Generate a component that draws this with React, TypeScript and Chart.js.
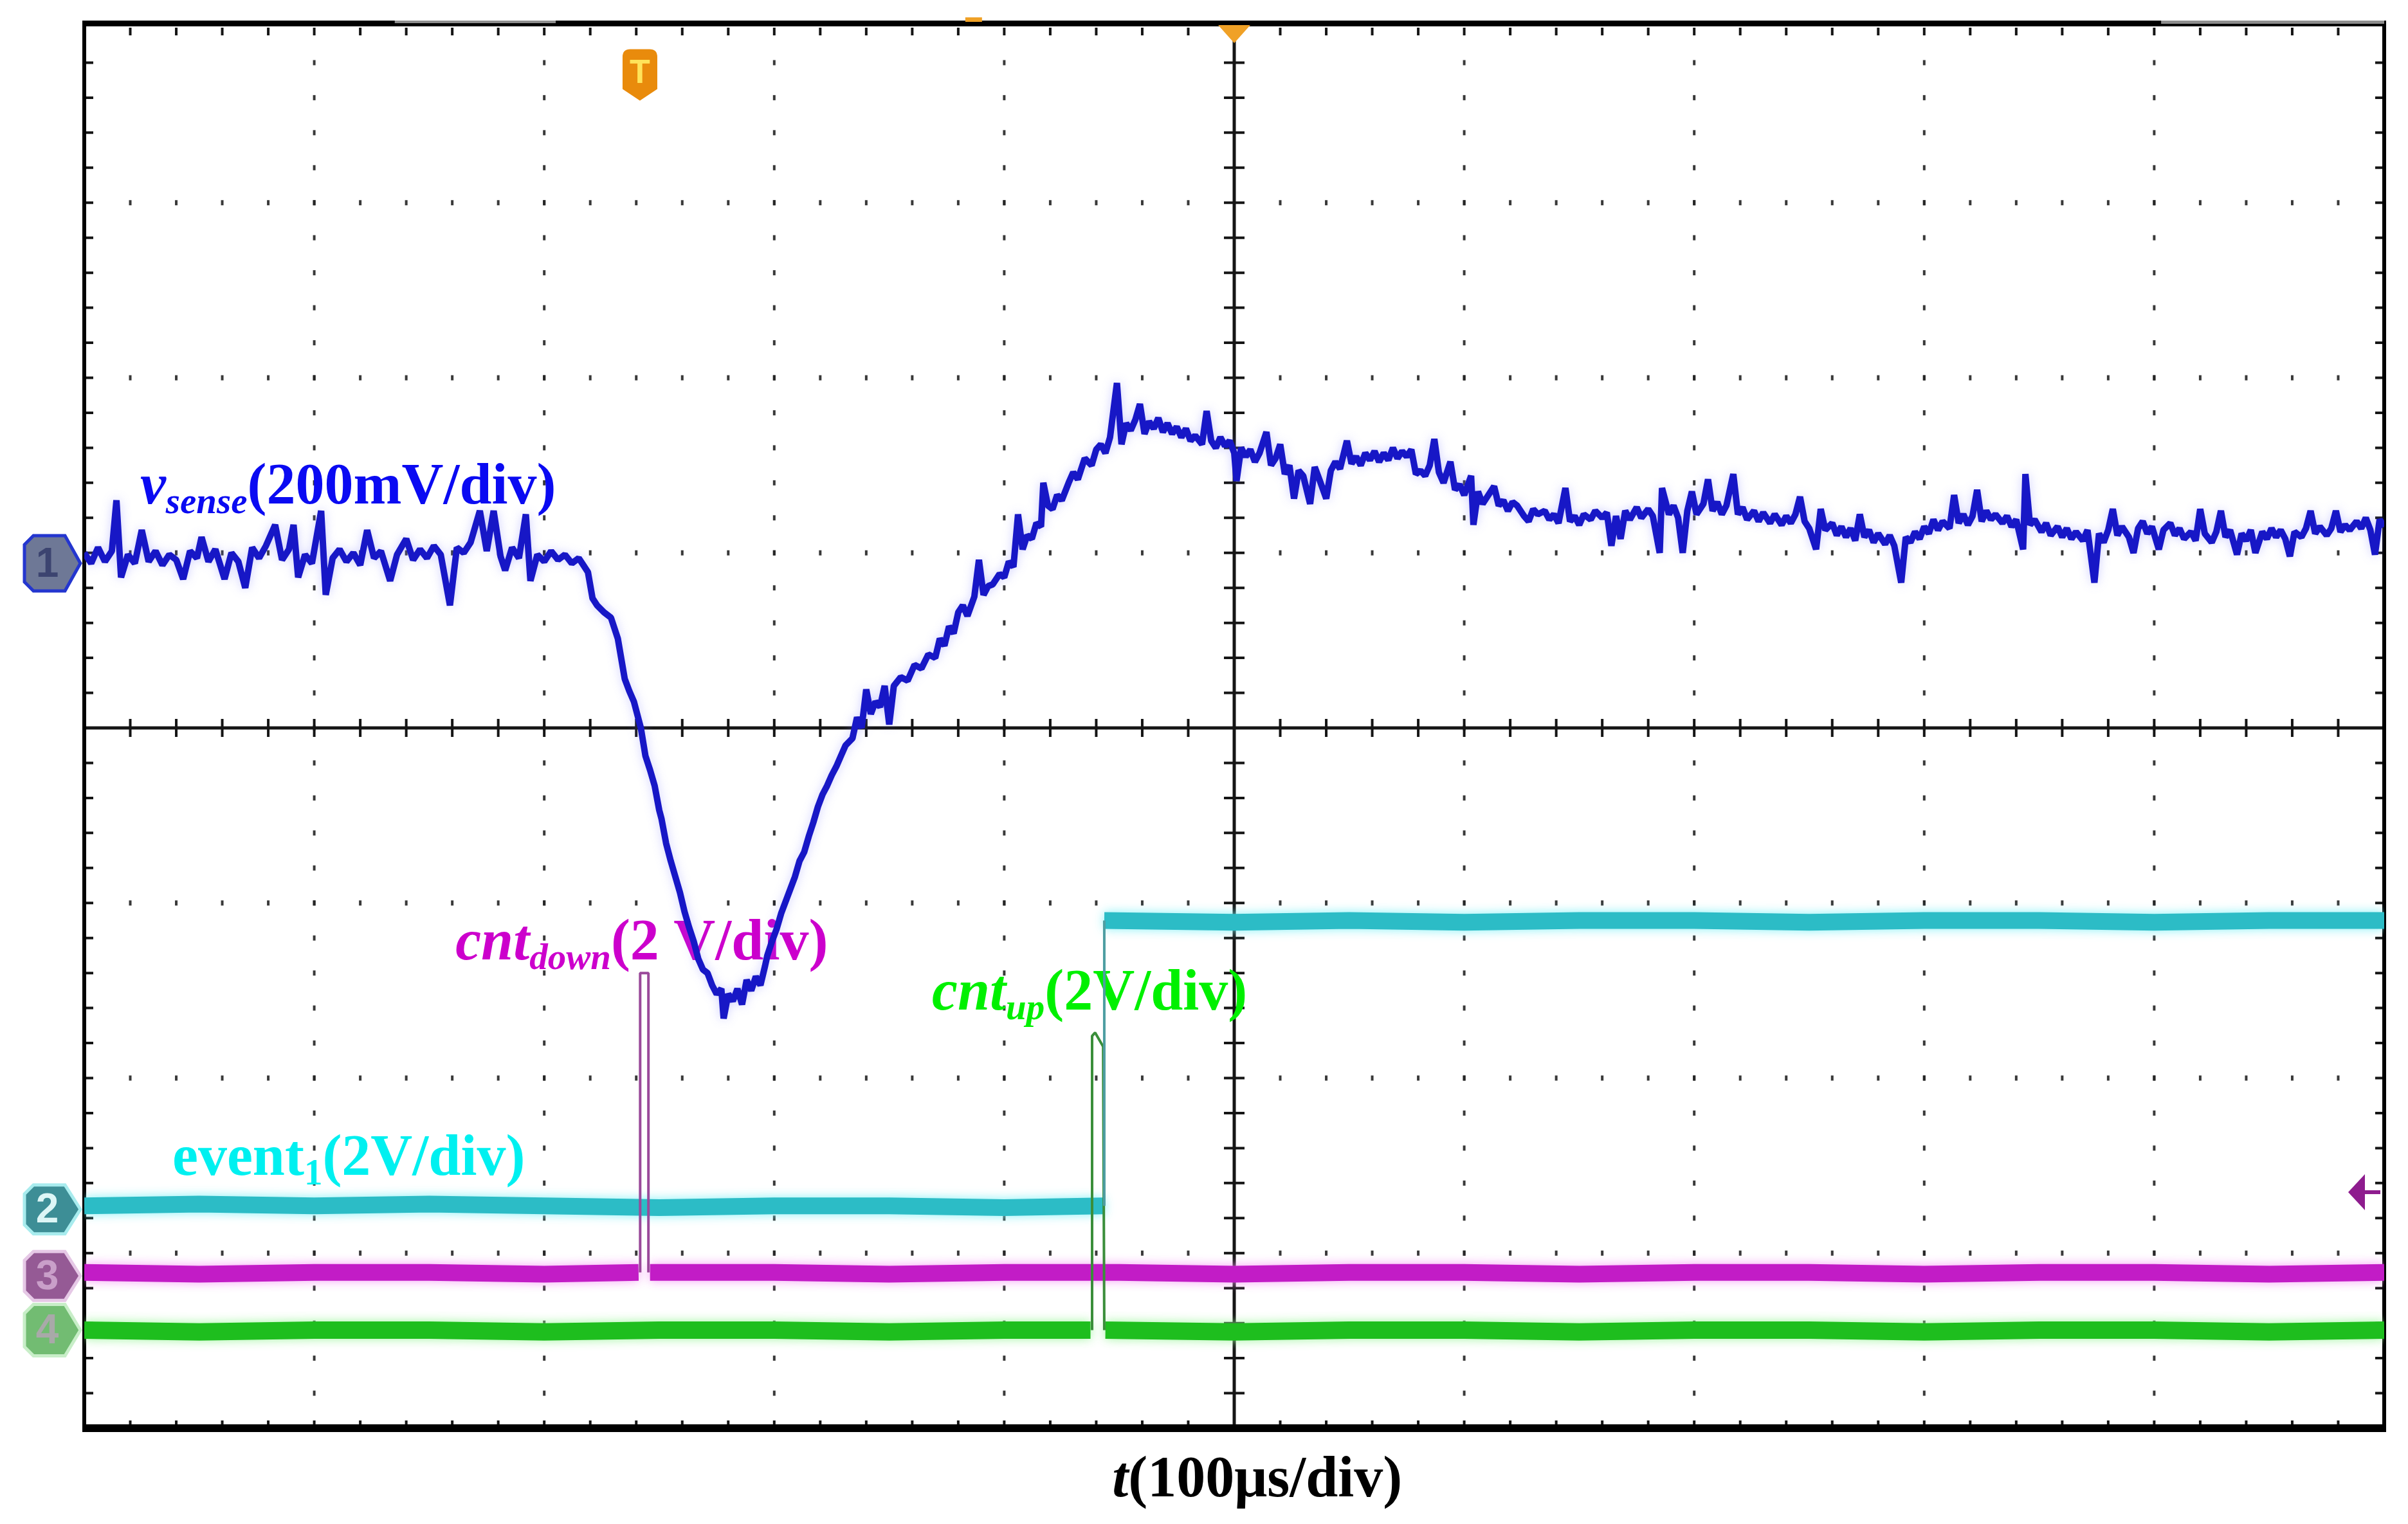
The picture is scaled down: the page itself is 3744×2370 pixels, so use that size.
import React, { useEffect, useRef } from 'react';
import { Chart, registerables } from 'chart.js';

Chart.register(...registerables);

// Time axis in microseconds (100 us/div), vertical axis in graticule divisions
const T_MIN = -500;
const T_MAX = 500;
const Y_MIN = -4;
const Y_MAX = 4;

// v_sense trace (channel 1), [t (us), divisions]
const VSENSE: [number, number][] = [
  [-500, 1.00], [-497, 0.94], [-494, 1.03], [-491, 0.95], [-488, 1.01], [-486, 1.30], [-484, 0.86], [-481, 0.99],
  [-478, 0.94], [-475, 1.13], [-472, 0.95], [-469, 1.01], [-466, 0.93], [-463, 0.99], [-460, 0.96], [-457, 0.85],
  [-454, 1.01], [-451, 0.97], [-449, 1.09], [-446, 0.95], [-443, 1.02], [-439, 0.85], [-436, 1.00], [-433, 0.95],
  [-430, 0.80], [-427, 1.03], [-424, 0.97], [-421, 1.04], [-417, 1.16], [-414, 0.96], [-411, 1.02], [-409, 1.16],
  [-407, 0.86], [-404, 0.99], [-401, 0.94], [-397, 1.24], [-395, 0.76], [-392, 0.97], [-389, 1.02], [-386, 0.95],
  [-383, 1.00], [-380, 0.93], [-377, 1.13], [-374, 0.97], [-371, 1.01], [-367, 0.84], [-364, 0.99], [-360, 1.08],
  [-357, 0.96], [-354, 1.02], [-351, 0.97], [-348, 1.04], [-345, 0.99], [-341, 0.70], [-338, 1.03], [-335, 1.00],
  [-332, 1.06], [-328, 1.24], [-325, 1.01], [-322, 1.24], [-319, 0.98], [-317, 0.90], [-314, 1.03], [-311, 0.97],
  [-308, 1.22], [-306, 0.84], [-303, 0.99], [-300, 0.95], [-297, 1.01], [-294, 0.96], [-291, 0.99], [-288, 0.94],
  [-285, 0.97], [-283, 0.93],
  [-281, 0.89], [-279, 0.74], [-277, 0.70], [-274, 0.66], [-271, 0.63], [-268, 0.51], [-265, 0.28], [-263, 0.21],
  [-261, 0.15], [-258, 0.00], [-256, -0.16], [-254, -0.24], [-252, -0.33], [-250, -0.47], [-249, -0.52], [-247, -0.66],
  [-245, -0.76], [-243, -0.85], [-241, -0.94], [-239, -1.05], [-237, -1.14], [-235, -1.22], [-233, -1.32], [-231, -1.38],
  [-229, -1.40], [-227, -1.47], [-225, -1.52], [-223, -1.49], [-222, -1.66], [-220, -1.52], [-218, -1.56], [-216, -1.49],
  [-214, -1.58], [-212, -1.44], [-210, -1.50], [-208, -1.42], [-206, -1.47], [-204, -1.36], [-203, -1.30], [-201, -1.22],
  [-199, -1.15], [-197, -1.06], [-195, -0.99], [-193, -0.92], [-191, -0.85], [-189, -0.76], [-187, -0.71], [-185, -0.62],
  [-183, -0.54], [-181, -0.45], [-179, -0.38], [-177, -0.33], [-175, -0.27], [-173, -0.22], [-171, -0.16], [-169, -0.10],
  [-166, -0.06], [-164, 0.06], [-162, 0.00], [-160, 0.22], [-158, 0.08], [-156, 0.15], [-154, 0.12], [-152, 0.24],
  [-150, 0.02], [-148, 0.24], [-145, 0.29], [-142, 0.27], [-139, 0.36], [-136, 0.34], [-133, 0.42], [-130, 0.40],
  [-128, 0.51], [-126, 0.47], [-124, 0.58], [-122, 0.54], [-120, 0.66], [-118, 0.70], [-116, 0.64], [-113, 0.75],
  [-111, 0.96], [-109, 0.76], [-107, 0.81], [-105, 0.82], [-102, 0.88], [-100, 0.86], [-98, 0.95], [-96, 0.92],
  [-94, 1.22], [-92, 1.02], [-90, 1.10], [-88, 1.08], [-86, 1.17], [-84, 1.15], [-83, 1.40], [-81, 1.27],
  [-79, 1.25], [-77, 1.33], [-75, 1.30], [-72, 1.40], [-70, 1.46], [-68, 1.42], [-65, 1.54], [-62, 1.50],
  [-60, 1.59], [-58, 1.62], [-56, 1.57], [-54, 1.66], [-51, 1.97], [-49, 1.62], [-47, 1.74], [-45, 1.70],
  [-43, 1.76], [-41, 1.85], [-39, 1.68], [-37, 1.75], [-35, 1.71], [-33, 1.77], [-31, 1.69], [-29, 1.74],
  [-27, 1.68], [-25, 1.72], [-23, 1.66], [-21, 1.71], [-19, 1.64], [-17, 1.67], [-14, 1.62], [-12, 1.81],
  [-10, 1.64], [-8, 1.60], [-6, 1.66], [-4, 1.61], [-2, 1.64], [0, 1.57], [1, 1.41], [3, 1.60],
  [5, 1.55], [7, 1.59], [9, 1.52], [11, 1.57], [14, 1.69], [16, 1.50], [18, 1.54], [20, 1.62],
  [22, 1.45], [24, 1.50], [26, 1.31], [28, 1.47], [30, 1.44], [33, 1.28], [35, 1.49], [37, 1.42],
  [40, 1.31], [42, 1.47], [44, 1.52], [46, 1.48], [49, 1.64], [51, 1.51], [53, 1.55], [55, 1.50],
  [57, 1.57], [59, 1.53], [61, 1.58], [63, 1.52], [65, 1.57], [67, 1.53], [69, 1.60], [71, 1.54],
  [73, 1.58], [75, 1.55], [77, 1.59], [79, 1.45], [81, 1.47], [83, 1.44], [85, 1.50], [87, 1.65],
  [89, 1.46], [91, 1.40], [94, 1.52], [96, 1.36], [98, 1.39], [100, 1.33], [103, 1.44], [104, 1.16],
  [106, 1.35], [108, 1.28], [110, 1.32], [113, 1.38], [115, 1.27], [117, 1.30], [119, 1.24], [121, 1.29],
  [123, 1.27], [126, 1.21], [128, 1.18], [130, 1.25], [132, 1.22], [135, 1.24], [137, 1.19], [139, 1.22],
  [141, 1.17], [144, 1.37], [146, 1.18], [148, 1.21], [150, 1.16], [152, 1.22], [155, 1.19], [157, 1.24],
  [160, 1.20], [162, 1.23], [164, 1.04], [166, 1.21], [168, 1.08], [170, 1.24], [172, 1.19], [175, 1.26],
  [177, 1.20], [180, 1.25], [182, 1.21], [185, 1.00], [186, 1.37], [189, 1.22], [191, 1.27], [193, 1.20],
  [195, 1.00], [197, 1.24], [199, 1.35], [201, 1.22], [204, 1.28], [206, 1.42], [208, 1.24], [210, 1.29],
  [212, 1.22], [214, 1.27], [217, 1.45], [219, 1.22], [221, 1.26], [223, 1.19], [226, 1.24], [228, 1.18],
  [230, 1.23], [233, 1.17], [235, 1.22], [238, 1.16], [240, 1.21], [242, 1.17], [244, 1.22], [246, 1.32],
  [248, 1.18], [250, 1.14], [253, 1.02], [255, 1.25], [257, 1.13], [260, 1.17], [262, 1.10], [264, 1.15],
  [266, 1.09], [268, 1.14], [270, 1.07], [272, 1.22], [274, 1.09], [276, 1.13], [278, 1.06], [280, 1.11],
  [283, 1.05], [285, 1.10], [287, 1.04], [290, 0.83], [292, 1.09], [294, 1.06], [296, 1.12], [298, 1.08],
  [300, 1.15], [302, 1.11], [304, 1.19], [306, 1.13], [308, 1.18], [311, 1.14], [313, 1.33], [315, 1.17],
  [317, 1.22], [319, 1.16], [321, 1.21], [323, 1.36], [325, 1.18], [327, 1.24], [329, 1.19], [331, 1.22],
  [334, 1.17], [336, 1.21], [338, 1.15], [340, 1.19], [343, 1.02], [344, 1.45], [346, 1.16], [348, 1.19],
  [351, 1.12], [353, 1.17], [355, 1.10], [358, 1.15], [360, 1.09], [362, 1.14], [364, 1.08], [366, 1.12],
  [369, 1.07], [371, 1.13], [374, 0.83], [376, 1.11], [378, 1.06], [380, 1.13], [382, 1.25], [384, 1.10],
  [386, 1.15], [389, 1.09], [391, 1.00], [393, 1.14], [395, 1.18], [397, 1.11], [399, 1.15], [402, 1.02],
  [404, 1.13], [407, 1.17], [409, 1.10], [411, 1.14], [413, 1.08], [416, 1.12], [418, 1.07], [420, 1.25],
  [422, 1.11], [425, 1.06], [427, 1.12], [429, 1.24], [431, 1.09], [433, 1.13], [436, 0.99], [438, 1.11],
  [440, 1.07], [442, 1.13], [444, 1.00], [447, 1.12], [449, 1.08], [451, 1.14], [453, 1.09], [455, 1.13],
  [457, 1.08], [459, 0.98], [461, 1.12], [464, 1.09], [466, 1.14], [468, 1.24], [470, 1.11], [472, 1.15],
  [475, 1.10], [477, 1.14], [479, 1.24], [481, 1.12], [483, 1.16], [485, 1.13], [488, 1.18], [490, 1.14],
  [492, 1.20], [494, 1.13], [496, 0.99], [498, 1.19], [500, 1.15],
];

// event1 (channel 2)
const EVENT1_LOW: [number, number][] = [
  [-500, -2.73], [-450, -2.72], [-400, -2.73], [-350, -2.72], [-300, -2.73], [-250, -2.74],
  [-200, -2.73], [-150, -2.73], [-100, -2.74], [-56.5, -2.73],
];
const EVENT1_EDGE: [number, number][] = [[-56.5, -2.73], [-56.5, -1.10]];
const EVENT1_HIGH: [number, number][] = [
  [-56.5, -1.10], [0, -1.11], [50, -1.10], [100, -1.11], [150, -1.10], [200, -1.10],
  [250, -1.11], [300, -1.10], [350, -1.10], [400, -1.11], [450, -1.10], [500, -1.10],
];

// cnt_down (channel 3)
const CNT_DOWN_BASE: [number, number | null][] = [
  [-500, -3.11], [-450, -3.12], [-400, -3.11], [-350, -3.11], [-300, -3.12], [-259, -3.11],
  [-256.5, null], [-254, -3.11], [-200, -3.11], [-150, -3.12], [-100, -3.11], [-50, -3.11],
  [0, -3.12], [50, -3.11], [100, -3.11], [150, -3.12], [200, -3.11], [250, -3.11],
  [300, -3.12], [350, -3.11], [400, -3.11], [450, -3.12], [500, -3.11],
];
const CNT_DOWN_PULSE: [number, number][] = [[-258.3, -3.11], [-258.3, -1.40], [-254.7, -1.40], [-254.7, -3.11]];

// cnt_up (channel 4)
const CNT_UP_BASE: [number, number | null][] = [
  [-500, -3.44], [-450, -3.45], [-400, -3.44], [-350, -3.44], [-300, -3.45], [-250, -3.44],
  [-200, -3.44], [-150, -3.45], [-100, -3.44], [-62.5, -3.44], [-59, null], [-56, -3.44],
  [0, -3.45], [50, -3.44], [100, -3.44], [150, -3.45], [200, -3.44], [250, -3.44],
  [300, -3.45], [350, -3.44], [400, -3.44], [450, -3.45], [500, -3.44],
];
const CNT_UP_PULSE: [number, number][] = [[-61.8, -3.44], [-61.8, -1.76], [-60.5, -1.74], [-57, -1.82], [-56.5, -3.44]];

// Channel tags (label, offset in divisions)
const CH_TAGS = [
  { label: '1', y: 0.94 },
  { label: '2', y: -2.75 },
  { label: '3', y: -3.13 },
  { label: '4', y: -3.44 },
];

type Part = { text: string; italic?: boolean; sub?: boolean };

const LABEL_VSENSE: Part[] = [{ text: 'v', italic: true }, { text: 'sense', italic: true, sub: true }, { text: '(200mV/div)' }];
const LABEL_CNTDOWN: Part[] = [{ text: 'cnt', italic: true }, { text: 'down', italic: true, sub: true }, { text: '(2 V/div)' }];
const LABEL_CNTUP: Part[] = [{ text: 'cnt', italic: true }, { text: 'up', italic: true, sub: true }, { text: '(2V/div)' }];
const LABEL_EVENT: Part[] = [{ text: 'event' }, { text: '1', sub: true }, { text: '(2V/div)' }];
const LABEL_TIME: Part[] = [{ text: 't', italic: true }, { text: '(100μs/div)' }];

const SERIF = '"Liberation Serif", "Times New Roman", Times, serif';

function fontFor(p: Part) {
  const size = p.sub ? 57 : 90;
  return `${p.italic ? 'italic ' : ''}bold ${size}px ${SERIF}`;
}

function drawRich(ctx: CanvasRenderingContext2D, parts: Part[], x: number, y: number, color: string, align: 'left' | 'center' = 'left') {
  ctx.save();
  ctx.fillStyle = color;
  ctx.textBaseline = 'alphabetic';
  ctx.textAlign = 'left';
  const widths = parts.map((p) => {
    ctx.font = fontFor(p);
    return ctx.measureText(p.text).width;
  });
  const total = widths.reduce((a, b) => a + b, 0);
  let cx = align === 'center' ? x - total / 2 : x;
  parts.forEach((p, i) => {
    ctx.font = fontFor(p);
    ctx.fillText(p.text, cx, y + (p.sub ? 15 : 0));
    cx += widths[i];
  });
  ctx.restore();
}

const graticulePlugin = {
  id: 'graticule',
  beforeDatasetsDraw(chart: any) {
    const { ctx, chartArea: a, scales } = chart;
    const xs = scales.x;
    const ys = scales.y;
    ctx.save();
    // dotted graticule
    ctx.fillStyle = 'rgba(35,35,35,0.9)';
    for (let i = 1; i < 10; i++) {
      if (i === 5) continue;
      const px = xs.getPixelForValue(T_MIN + i * 100);
      for (let j = 1; j < 40; j++) {
        const py = ys.getPixelForValue(Y_MIN + j * 0.2);
        ctx.fillRect(px - 2, py - 4, 4, 8);
      }
    }
    for (let k = 1; k < 8; k++) {
      if (k === 4) continue;
      const py = ys.getPixelForValue(Y_MIN + k);
      for (let m = 1; m < 50; m++) {
        const px = xs.getPixelForValue(T_MIN + m * 20);
        ctx.fillRect(px - 2, py - 4, 4, 8);
      }
    }
    // center cross lines
    const cx = xs.getPixelForValue(0);
    const cy = ys.getPixelForValue(0);
    ctx.strokeStyle = '#151515';
    ctx.lineWidth = 5;
    ctx.beginPath();
    ctx.moveTo(a.left, cy);
    ctx.lineTo(a.right, cy);
    ctx.moveTo(cx, a.top);
    ctx.lineTo(cx, a.bottom);
    ctx.stroke();
    // minor ticks on center lines and border
    ctx.lineWidth = 4;
    ctx.beginPath();
    for (let m = 1; m < 50; m++) {
      const px = xs.getPixelForValue(T_MIN + m * 20);
      ctx.moveTo(px, cy - 14);
      ctx.lineTo(px, cy + 14);
      ctx.moveTo(px, a.top);
      ctx.lineTo(px, a.top + 12);
      ctx.moveTo(px, a.bottom);
      ctx.lineTo(px, a.bottom - 12);
    }
    for (let j = 1; j < 40; j++) {
      const py = ys.getPixelForValue(Y_MIN + j * 0.2);
      ctx.moveTo(cx - 16, py);
      ctx.lineTo(cx + 16, py);
      ctx.moveTo(a.left, py);
      ctx.lineTo(a.left + 14, py);
      ctx.moveTo(a.right, py);
      ctx.lineTo(a.right - 14, py);
    }
    ctx.stroke();
    // frame
    ctx.strokeStyle = '#000';
    ctx.lineWidth = 6;
    ctx.beginPath();
    ctx.moveTo(a.left, a.top - 6);
    ctx.lineTo(a.left, a.bottom);
    ctx.moveTo(a.right, a.top - 6);
    ctx.lineTo(a.right, a.bottom);
    ctx.stroke();
    ctx.fillStyle = '#000';
    ctx.fillRect(a.left - 3, a.top - 11, a.right - a.left + 6, 9);
    ctx.fillRect(a.left - 3, a.bottom - 6, a.right - a.left + 6, 12);
    ctx.fillStyle = '#8e8e8e';
    ctx.fillRect(xs.getPixelForValue(-365), a.top - 11, xs.getPixelForValue(-295) - xs.getPixelForValue(-365), 4);
    ctx.fillRect(xs.getPixelForValue(403), a.top - 11, a.right - xs.getPixelForValue(403), 5);

    // annotations (text)
    drawRich(ctx, LABEL_VSENSE, xs.getPixelForValue(-475.7), ys.getPixelForValue(1.282), '#0A0AF2');
    drawRich(ctx, LABEL_CNTDOWN, xs.getPixelForValue(-338.6), ys.getPixelForValue(-1.322), '#CC00CC');
    drawRich(ctx, LABEL_CNTUP, xs.getPixelForValue(-131.4), ys.getPixelForValue(-1.609), '#00F000');
    drawRich(ctx, LABEL_EVENT, xs.getPixelForValue(-461.7), ys.getPixelForValue(-2.553), '#00F0F0');
    ctx.restore();
  },
  beforeDatasetDraw(chart: any, args: any) {
    const ds = chart.data.datasets[args.index];
    if (ds && ds.glow) {
      chart.ctx.save();
      chart.ctx.shadowColor = ds.glow;
      chart.ctx.shadowBlur = 16;
    }
  },
  afterDatasetDraw(chart: any, args: any) {
    const ds = chart.data.datasets[args.index];
    if (ds && ds.glow) chart.ctx.restore();
  },
  afterDatasetsDraw(chart: any) {
    const { ctx, chartArea: a, scales } = chart;
    const xs = scales.x;
    const ys = scales.y;
    ctx.save();
    // channel tags on the left
    const tagStyles = [
      { fill: '#6E7896', stroke: '#2436CF', text: '#3C4470', h: 86 },
      { fill: '#3D8E96', stroke: '#A8ECEE', text: '#DDF6F6', h: 76 },
      { fill: '#955A95', stroke: '#E6C8E6', text: '#C99FC9', h: 76 },
      { fill: '#72BC72', stroke: '#C8EEC8', text: '#A9A9A9', h: 80 },
    ];
    CH_TAGS.forEach((tag, i) => {
      const st = tagStyles[i];
      const cy = ys.getPixelForValue(tag.y);
      const xl = a.left - 93;
      const xr = a.left - 6;
      const body = xr - 24;
      const h = st.h;
      const r = 14;
      ctx.beginPath();
      ctx.moveTo(xl + r, cy - h / 2);
      ctx.lineTo(body, cy - h / 2);
      ctx.lineTo(xr, cy);
      ctx.lineTo(body, cy + h / 2);
      ctx.lineTo(xl + r, cy + h / 2);
      ctx.lineTo(xl, cy + h / 2 - r);
      ctx.lineTo(xl, cy - h / 2 + r);
      ctx.closePath();
      ctx.fillStyle = st.fill;
      ctx.fill();
      ctx.lineWidth = 5;
      ctx.strokeStyle = st.stroke;
      ctx.stroke();
      ctx.fillStyle = st.text;
      ctx.font = 'bold 64px "Liberation Sans", Arial, sans-serif';
      ctx.textAlign = 'center';
      ctx.textBaseline = 'middle';
      ctx.fillText(tag.label, (xl + body) / 2 + 4, cy + 3);
    });

    // trigger position marker "T"
    const tx = xs.getPixelForValue(-258.4);
    const ty = ys.getPixelForValue(3.73);
    ctx.fillStyle = '#E98B0C';
    ctx.beginPath();
    ctx.moveTo(tx - 27, ty - 28);
    ctx.quadraticCurveTo(tx - 27, ty - 40, tx - 15, ty - 40);
    ctx.lineTo(tx + 15, ty - 40);
    ctx.quadraticCurveTo(tx + 27, ty - 40, tx + 27, ty - 28);
    ctx.lineTo(tx + 27, ty + 22);
    ctx.lineTo(tx, ty + 40);
    ctx.lineTo(tx - 27, ty + 22);
    ctx.closePath();
    ctx.fill();
    ctx.fillStyle = '#FFE35A';
    ctx.font = 'bold 52px "Liberation Sans", Arial, sans-serif';
    ctx.textAlign = 'center';
    ctx.textBaseline = 'middle';
    ctx.fillText('T', tx, ty - 2);

    // horizontal position marker at top center
    const hx = xs.getPixelForValue(0);
    ctx.fillStyle = '#F0A126';
    ctx.beginPath();
    ctx.moveTo(hx - 25, a.top - 4);
    ctx.lineTo(hx + 25, a.top - 4);
    ctx.lineTo(hx, a.top + 24);
    ctx.closePath();
    ctx.fill();
    // small orange tick above frame
    ctx.fillRect(xs.getPixelForValue(-113.3) - 13, a.top - 16, 26, 7);

    // trigger level marker on the right
    const ly = ys.getPixelForValue(-2.652);
    ctx.fillStyle = '#8E1C8E';
    ctx.beginPath();
    ctx.moveTo(a.right - 56, ly);
    ctx.lineTo(a.right - 30, ly - 28);
    ctx.lineTo(a.right - 30, ly + 28);
    ctx.closePath();
    ctx.fill();
    ctx.fillRect(a.right - 32, ly - 3, 26, 6);

    // time axis title
    drawRich(ctx, LABEL_TIME, xs.getPixelForValue(10), ys.getPixelForValue(-4.389), '#000', 'center');
    ctx.restore();
  },
};

export default function App() {
  const ref = useRef<HTMLCanvasElement | null>(null);

  useEffect(() => {
    if (!ref.current) return;
    const band = (data: any, color: string, width: number, glow?: string) => ({
      data,
      borderColor: color,
      borderWidth: width,
      pointRadius: 0,
      tension: 0,
      spanGaps: false,
      borderJoinStyle: 'bevel' as const,
      borderCapStyle: 'butt' as const,
      fill: false,
      glow,
    });
    const chart = new Chart(ref.current, {
      type: 'line',
      data: {
        datasets: [
          band(VSENSE, '#1717C6', 10, 'rgba(120,120,255,0.35)'),
          band(EVENT1_EDGE, '#4E9EA2', 4),
          band(CNT_UP_PULSE, '#3A8E3A', 4),
          band(CNT_DOWN_PULSE, '#9A4A9A', 4),
          band(EVENT1_HIGH, '#2CBCC6', 26, 'rgba(120,240,245,0.9)'),
          band(EVENT1_LOW, '#2CBCC6', 26, 'rgba(120,240,245,0.9)'),
          band(CNT_DOWN_BASE, '#C21CC6', 26, 'rgba(245,150,245,0.9)'),
          band(CNT_UP_BASE, '#1EBE1E', 27, 'rgba(150,245,150,0.9)'),
        ] as any,
      },
      options: {
        animation: false,
        responsive: false,
        devicePixelRatio: 1,
        events: [],
        layout: { padding: { left: 131, right: 37, top: 43, bottom: 149 } },
        plugins: { legend: { display: false }, tooltip: { enabled: false }, title: { display: false } },
        scales: {
          x: { type: 'linear', min: T_MIN, max: T_MAX, display: false },
          y: { type: 'linear', min: Y_MIN, max: Y_MAX, display: false },
        },
      },
      plugins: [graticulePlugin],
    });
    return () => chart.destroy();
  }, []);

  return (
    <div style={{ position: 'absolute', left: 0, top: 0, width: 3744, height: 2370, background: '#fff' }}>
      <canvas ref={ref} width={3744} height={2370} style={{ width: 3744, height: 2370, display: 'block' }} />
    </div>
  );
}
